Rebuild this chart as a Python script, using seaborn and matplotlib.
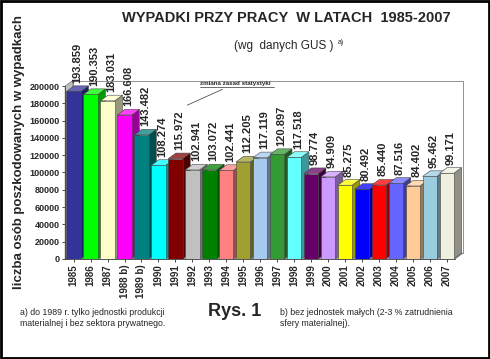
import matplotlib
matplotlib.use('Agg')
import pandas as pd
import seaborn as sns
import matplotlib.pyplot as plt
import matplotlib.colors as mc
from matplotlib.patches import Polygon, Rectangle
from matplotlib.lines import Line2D

years = ['1985', '1986', '1987', '1988 b)', '1989 b)', '1990', '1991', '1992', '1993', '1994',
         '1995', '1996', '1997', '1998', '1999', '2000', '2001', '2002', '2003', '2004',
         '2005', '2006', '2007']
values = [193859, 190353, 183031, 166608, 143482, 108274, 115972, 102941, 103072, 102441,
          112205, 117119, 120897, 117518, 98774, 94909, 85275, 80492, 85440, 87516,
          84402, 95462, 99171]
colors = ['#333399', '#00ff00', '#ffffcc', '#ff00ff', '#008080', '#00ffff', '#800000', '#c0c0c0',
          '#008000', '#ff8080', '#a0a030', '#a6caf0', '#339933', '#66ffff', '#660066', '#cc99ff',
          '#ffff00', '#0000ff', '#ff0000', '#6666ff', '#ffcc99', '#99ccdd', '#f0f0e0']

sns.set_style('white')
plt.rcParams['font.family'] = ['Liberation Sans', 'DejaVu Sans']

fig = plt.figure(figsize=(4.9, 3.59), dpi=100)
ax = fig.add_axes([0.133, 0.279, 0.796, 0.481])

df = pd.DataFrame({'rok': years, 'liczba': values})
sns.barplot(data=df, x='rok', y='liczba', hue='rok', palette=colors, legend=False,
            width=0.85, edgecolor='#444444', linewidth=0.4, saturation=1, ax=ax, zorder=3)

ax.set_xlim(-0.5, len(years) - 0.5)
ax.set_ylim(0, 200000)
dx, dy = 0.45, 6500

# back wall, left wall and floor of the 3D box
n = len(years)
ax.add_patch(Polygon([(-0.5 + dx, dy), (n - 0.5 + dx, dy), (n - 0.5 + dx, 200000 + dy),
                      (-0.5 + dx, 200000 + dy)], closed=True, fill=False,
                     edgecolor='#808080', lw=0.6, zorder=1, clip_on=False))
ax.add_patch(Polygon([(-0.5, 0), (-0.5 + dx, dy), (-0.5 + dx, 200000 + dy), (-0.5, 200000)],
                     closed=True, facecolor='#c0c0c0', edgecolor='#808080', lw=0.6, zorder=1,
                     clip_on=False))
ax.add_patch(Polygon([(-0.5, 0), (n - 0.5, 0), (n - 0.5 + dx, dy), (-0.5 + dx, dy)],
                     closed=True, facecolor='#c0c0c0', edgecolor='#808080', lw=0.6, zorder=1,
                     clip_on=False))

for i, p in enumerate(ax.patches[:n]):
    x0, w, h = p.get_x(), p.get_width(), p.get_height()
    base = mc.to_rgb(colors[i])
    dark = tuple(c * 0.6 for c in base)
    light = tuple(c + (1 - c) * 0.25 for c in base)
    ax.add_patch(Polygon([(x0 + w, 0), (x0 + w + dx, dy), (x0 + w + dx, h + dy), (x0 + w, h)],
                         closed=True, facecolor=dark, edgecolor='#444444', lw=0.4, zorder=2.5,
                         clip_on=False))
    ax.add_patch(Polygon([(x0, h), (x0 + dx, h + dy), (x0 + w + dx, h + dy), (x0 + w, h)],
                         closed=True, facecolor=light, edgecolor='#444444', lw=0.4, zorder=2.5,
                         clip_on=False))
    ax.text(x0 + w / 2 + dx / 2, h + dy + 3500, f'{values[i]:,}'.replace(',', '.'),
            rotation=90, ha='center', va='bottom', fontsize=8, fontweight='bold', clip_on=False)

ax.set_yticks(range(0, 200001, 20000))
ax.set_yticklabels([str(v) for v in range(0, 200001, 20000)], fontsize=6.5, fontweight='bold')
ax.set_xticks(range(n))
ax.set_xticklabels(years, rotation=90, fontsize=7, fontweight='bold')
ax.tick_params(axis='both', length=2, width=0.6, pad=2)
ax.tick_params(axis='x', bottom=True)
ax.tick_params(axis='y', left=True)
ax.set_xlabel('')
ax.set_ylabel('liczba osób poszkodowanych w wypadkach', fontsize=9.5, fontweight='bold')
ax.yaxis.set_label_coords(-0.102, 0.62)
for s in ['top', 'right']:
    ax.spines[s].set_visible(False)
for s in ['left', 'bottom']:
    ax.spines[s].set_color('#404040')
    ax.spines[s].set_linewidth(0.6)

ax.annotate('zmiana zasad statystyki', xy=(6.7, 178000), xycoords='data',
            xytext=(200 / 490, 1 - 86 / 359), textcoords='figure fraction',
            fontsize=4.5, fontweight='bold', ha='left', va='bottom',
            arrowprops=dict(arrowstyle='-', lw=0.5, color='#333333', shrinkA=0, shrinkB=0))
fig.add_artist(Line2D([200 / 490, 274 / 490], [1 - 87 / 359, 1 - 87 / 359], lw=0.5, color='#333333'))

fig.text(0.585, 1 - 18 / 359, 'WYPADKI PRZY PRACY  W LATACH  1985-2007', ha='center', va='center',
         fontsize=10.5, fontweight='bold')
fig.text(0.58, 1 - 46 / 359, '(wg  danych GUS )', ha='center', va='center', fontsize=8.5)
fig.text(0.69, 1 - 43 / 359, 'a)', ha='left', va='center', fontsize=5)

fig.text(20 / 490, 1 - 318 / 359, 'a) do 1989 r. tylko jednostki produkcji\nmaterialnej i bez sektora prywatnego.',
         ha='left', va='center', fontsize=6.3, linespacing=1.3)
fig.text(235 / 490, 1 - 312 / 359, 'Rys. 1', ha='center', va='center', fontsize=13, fontweight='bold')
fig.text(280 / 490, 1 - 318 / 359, 'b) bez jednostek małych (2-3 % zatrudnienia\nsfery materialnej).',
         ha='left', va='center', fontsize=6.3, linespacing=1.3)

fig.add_artist(Rectangle((0.003, 0.004), 0.994, 0.992, transform=fig.transFigure, fill=False,
                         edgecolor='black', lw=2))

fig.savefig('out.png', dpi=100)
